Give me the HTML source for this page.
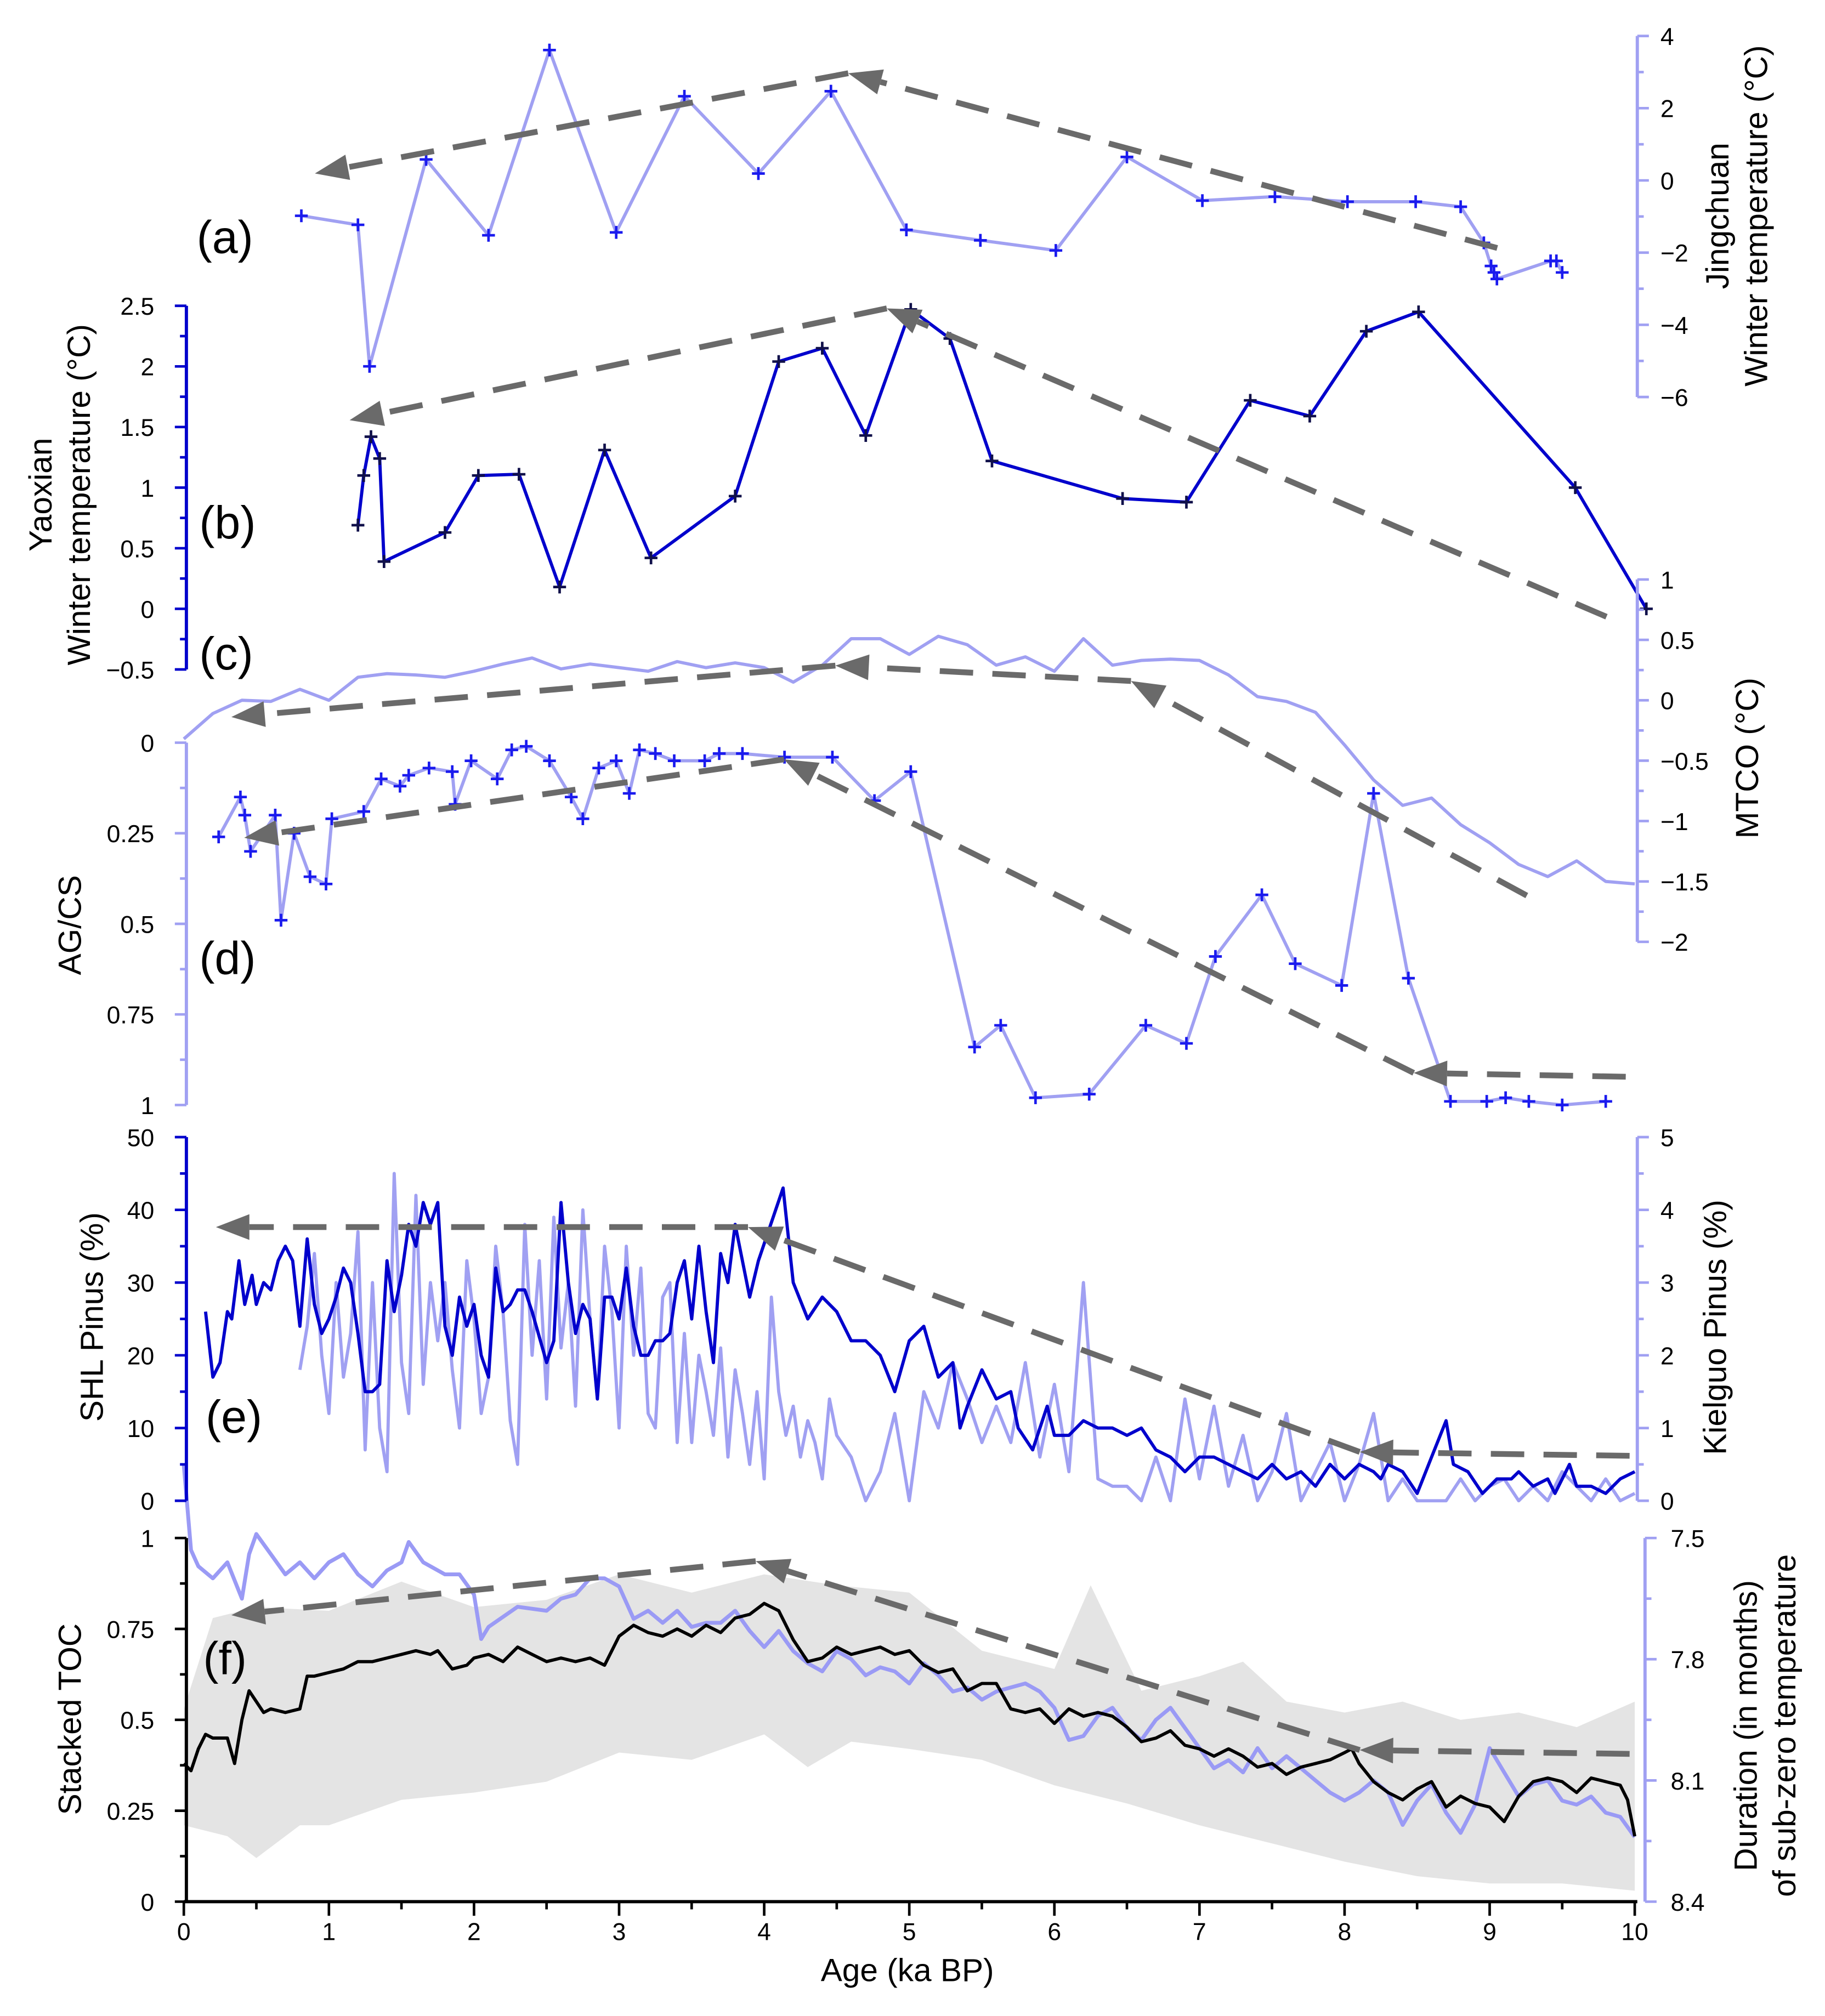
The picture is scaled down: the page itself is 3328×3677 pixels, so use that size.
<!DOCTYPE html>
<html><head><meta charset="utf-8"><style>
html,body{margin:0;padding:0;background:#fff}
svg{display:block}
text{font-family:"Liberation Sans",Arial,sans-serif}
</style></head><body>
<svg id="chart" xmlns="http://www.w3.org/2000/svg" width="3328" height="3677" viewBox="0 0 1420 1569"></svg>
<script>
// ---- data ----
const jcAge=[0.81,1.20,1.28,1.67,2.10,2.52,2.98,3.45,3.96,4.46,4.98,5.49,6.01,6.50,7.02,7.52,8.02,8.49,8.80,8.96,9.01,9.03,9.05,9.42,9.46,9.50];
const jcVal=[-0.98,-1.23,-5.15,0.58,-1.52,3.61,-1.44,2.33,0.19,2.47,-1.37,-1.66,-1.94,0.65,-0.56,-0.45,-0.59,-0.59,-0.73,-1.73,-2.37,-2.55,-2.73,-2.23,-2.23,-2.55];
const yxAge=[1.20,1.24,1.29,1.35,1.38,1.80,2.03,2.31,2.59,2.90,3.22,3.80,4.10,4.40,4.70,5.01,5.28,5.57,6.47,6.91,7.35,7.76,8.15,8.51,9.59,10.08];
const yxVal=[0.69,1.10,1.42,1.24,0.39,0.63,1.10,1.11,0.18,1.31,0.42,0.93,2.04,2.15,1.43,2.47,2.23,1.22,0.91,0.88,1.72,1.59,2.29,2.45,1.00,0.00];
const mtAge=[0,0.2,0.4,0.6,0.8,1.0,1.2,1.4,1.6,1.8,2.0,2.2,2.4,2.6,2.8,3.0,3.2,3.4,3.6,3.8,4.0,4.2,4.4,4.6,4.8,5.0,5.2,5.4,5.6,5.8,6.0,6.2,6.4,6.6,6.8,7.0,7.2,7.4,7.6,7.8,8.0,8.2,8.4,8.6,8.8,9.0,9.2,9.4,9.6,9.8,10.0];
const mtVal=[-0.32,-0.11,0.0,-0.01,0.09,0.0,0.19,0.22,0.21,0.19,0.24,0.30,0.35,0.26,0.30,0.27,0.24,0.32,0.27,0.31,0.27,0.15,0.29,0.51,0.51,0.38,0.53,0.46,0.29,0.36,0.24,0.51,0.29,0.33,0.34,0.33,0.21,0.03,-0.01,-0.10,-0.37,-0.66,-0.87,-0.81,-1.03,-1.18,-1.36,-1.46,-1.33,-1.50,-1.52];
const agAge=[0.24,0.39,0.42,0.46,0.63,0.67,0.76,0.87,0.98,1.02,1.24,1.36,1.49,1.55,1.69,1.85,1.87,1.98,2.16,2.26,2.36,2.52,2.67,2.75,2.86,2.98,3.07,3.14,3.25,3.38,3.59,3.69,3.85,4.14,4.47,4.76,5.01,5.45,5.63,5.87,6.24,6.63,6.91,7.11,7.43,7.66,7.98,8.20,8.44,8.73,8.98,9.11,9.27,9.50,9.80];
const agVal=[0.26,0.15,0.20,0.30,0.20,0.49,0.25,0.37,0.39,0.21,0.19,0.10,0.12,0.09,0.07,0.08,0.17,0.05,0.10,0.02,0.01,0.05,0.15,0.21,0.07,0.05,0.14,0.02,0.03,0.05,0.05,0.03,0.03,0.04,0.04,0.16,0.08,0.84,0.78,0.98,0.97,0.78,0.83,0.59,0.42,0.61,0.67,0.14,0.65,0.99,0.99,0.98,0.99,1.00,0.99];
const shlAge=[0.15,0.2,0.25,0.3,0.33,0.38,0.42,0.47,0.5,0.55,0.6,0.65,0.7,0.75,0.8,0.85,0.9,0.95,1.0,1.05,1.1,1.15,1.2,1.25,1.3,1.35,1.4,1.45,1.5,1.55,1.6,1.65,1.7,1.75,1.8,1.85,1.9,1.95,2.0,2.05,2.1,2.15,2.2,2.25,2.3,2.35,2.4,2.5,2.55,2.6,2.65,2.7,2.75,2.8,2.85,2.9,2.95,3.0,3.05,3.1,3.15,3.2,3.25,3.3,3.35,3.4,3.45,3.5,3.55,3.6,3.65,3.7,3.75,3.8,3.9,3.96,4.13,4.2,4.3,4.4,4.5,4.6,4.7,4.8,4.9,5.0,5.1,5.2,5.3,5.35,5.4,5.5,5.6,5.7,5.75,5.85,5.95,6.0,6.1,6.2,6.3,6.4,6.5,6.6,6.7,6.8,6.9,7.0,7.1,7.2,7.3,7.4,7.5,7.6,7.7,7.8,7.9,8.0,8.1,8.2,8.25,8.3,8.4,8.5,8.6,8.7,8.75,8.85,8.95,9.05,9.15,9.2,9.3,9.4,9.45,9.55,9.6,9.7,9.8,9.9,10.0];
const shlVal=[26,17,19,26,25,33,27,31,27,30,29,33,35,33,24,36,27,23,25,28,32,30,23,15,15,16,33,26,31,38,35,41,38,41,24,20,28,24,27,20,17,32,26,27,29,29,26,19,22,41,30,23,27,25,14,28,28,25,32,24,20,20,22,22,23,30,33,25,35,26,19,34,30,38,28,33,43,30,25,28,26,22,22,20,15,22,24,17,19,10,13,18,14,15,10,7,13,9,9,11,10,10,9,10,7,6,4,6,6,5,4,3,5,3,4,2,5,3,5,4,3,5,4,1,6,11,5,4,1,3,3,4,2,3,1,5,2,2,1,3,4];
const kgAge=[0.80,0.85,0.90,0.95,1.00,1.05,1.10,1.15,1.20,1.25,1.30,1.35,1.40,1.45,1.50,1.55,1.60,1.65,1.70,1.75,1.80,1.85,1.90,1.95,2.00,2.05,2.10,2.15,2.20,2.25,2.30,2.35,2.40,2.45,2.50,2.55,2.60,2.65,2.70,2.75,2.80,2.85,2.90,2.95,3.00,3.05,3.10,3.15,3.20,3.25,3.30,3.35,3.40,3.45,3.50,3.55,3.60,3.65,3.70,3.75,3.80,3.85,3.90,3.95,4.00,4.05,4.10,4.15,4.20,4.25,4.30,4.35,4.40,4.45,4.50,4.6,4.7,4.8,4.9,5.0,5.1,5.2,5.3,5.4,5.5,5.6,5.7,5.8,5.9,6.0,6.1,6.2,6.3,6.4,6.5,6.6,6.7,6.8,6.9,7.0,7.1,7.2,7.3,7.4,7.5,7.6,7.7,7.8,7.9,8.0,8.1,8.2,8.3,8.4,8.5,8.6,8.7,8.8,8.9,9.0,9.1,9.2,9.3,9.4,9.5,9.6,9.7,9.8,9.9,10.0];
const kgVal=[1.8,2.4,3.4,2.0,1.2,3.0,1.7,2.3,3.7,0.7,3.0,1.0,0.4,4.5,1.9,1.2,4.2,1.6,3.0,2.2,3.0,1.8,1.0,3.3,2.5,1.2,1.7,3.5,2.6,1.1,0.5,3.8,2.0,3.3,1.4,3.9,2.1,3.0,1.3,4.0,2.5,1.4,3.5,2.6,1.0,3.5,2.0,3.2,1.2,1.0,2.8,3.0,0.8,2.3,0.8,2.0,1.5,0.9,2.1,0.6,1.8,1.2,0.5,1.5,0.3,2.8,1.5,0.9,1.3,0.6,1.1,0.8,0.3,1.4,0.9,0.6,0.0,0.4,1.2,0.0,1.5,1.0,1.9,1.4,0.8,1.3,0.8,1.9,0.6,1.6,0.4,3.0,0.3,0.2,0.2,0.0,0.6,0.0,1.4,0.3,1.3,0.2,0.9,0.0,0.4,1.2,0.0,0.4,0.8,0.0,0.5,1.2,0.0,0.3,0.0,0.0,0.0,0.3,0.0,0.2,0.3,0.0,0.2,0.0,0.4,0.2,0.0,0.3,0.0,0.1];
const tocAge=[0,0.05,0.1,0.15,0.2,0.3,0.35,0.4,0.45,0.5,0.55,0.6,0.7,0.8,0.85,0.9,1.0,1.1,1.2,1.3,1.4,1.5,1.6,1.7,1.75,1.85,1.95,2.0,2.1,2.2,2.3,2.4,2.5,2.6,2.7,2.8,2.9,3.0,3.1,3.2,3.3,3.4,3.5,3.6,3.7,3.8,3.9,4.0,4.1,4.2,4.3,4.4,4.5,4.6,4.7,4.8,4.9,5.0,5.1,5.2,5.3,5.4,5.5,5.6,5.7,5.8,5.9,6.0,6.1,6.2,6.3,6.4,6.5,6.6,6.7,6.8,6.9,7.0,7.1,7.2,7.3,7.4,7.5,7.6,7.7,7.8,7.9,8.0,8.05,8.1,8.2,8.3,8.4,8.5,8.6,8.7,8.8,8.9,9.0,9.1,9.2,9.3,9.4,9.5,9.6,9.7,9.8,9.9,9.95,10.0];
const tocVal=[0.38,0.36,0.42,0.46,0.45,0.45,0.38,0.50,0.58,0.55,0.52,0.53,0.52,0.53,0.62,0.62,0.63,0.64,0.66,0.66,0.67,0.68,0.69,0.68,0.69,0.64,0.65,0.67,0.68,0.66,0.70,0.68,0.66,0.67,0.66,0.67,0.65,0.73,0.76,0.74,0.73,0.75,0.73,0.76,0.74,0.78,0.79,0.82,0.80,0.72,0.66,0.67,0.70,0.68,0.69,0.70,0.68,0.69,0.65,0.63,0.64,0.58,0.60,0.60,0.53,0.52,0.53,0.49,0.53,0.51,0.52,0.51,0.48,0.44,0.45,0.47,0.43,0.42,0.40,0.42,0.40,0.37,0.38,0.35,0.37,0.38,0.39,0.41,0.42,0.38,0.33,0.30,0.28,0.31,0.33,0.26,0.29,0.27,0.26,0.22,0.29,0.33,0.34,0.33,0.30,0.34,0.33,0.32,0.28,0.18];
const hiAge=[0,0.2,0.5,1,1.5,2,2.5,3,3.5,4,4.5,5,5.5,6,6.25,6.6,7,7.3,7.6,8,8.4,8.8,9.2,9.6,10];
const bandHi=[0.53,0.78,0.81,0.80,0.88,0.81,0.83,0.90,0.85,0.90,0.87,0.85,0.69,0.64,0.87,0.58,0.62,0.66,0.55,0.52,0.55,0.50,0.52,0.48,0.55];
const loAge=[0,0.3,0.5,0.8,1,1.5,2,2.5,3,3.5,4,4.3,4.6,5,5.5,6,6.5,7,7.5,8,8.5,9,9.5,10];
const bandLo=[0.21,0.18,0.12,0.21,0.21,0.28,0.30,0.33,0.41,0.39,0.46,0.37,0.44,0.42,0.39,0.32,0.27,0.21,0.16,0.11,0.07,0.05,0.05,0.03];
const durAge=[0,0.05,0.1,0.2,0.3,0.4,0.45,0.5,0.6,0.7,0.8,0.9,1.0,1.1,1.2,1.3,1.4,1.5,1.55,1.65,1.8,1.9,2.0,2.05,2.1,2.3,2.5,2.6,2.7,2.8,2.9,3.0,3.1,3.2,3.3,3.4,3.5,3.6,3.7,3.8,3.9,4.0,4.1,4.2,4.3,4.4,4.5,4.6,4.7,4.8,4.9,5.0,5.1,5.2,5.3,5.4,5.5,5.6,5.7,5.8,5.9,6.0,6.1,6.2,6.3,6.4,6.5,6.6,6.7,6.8,6.9,7.0,7.1,7.2,7.3,7.4,7.5,7.6,7.7,7.8,7.9,8.0,8.1,8.2,8.3,8.4,8.5,8.6,8.7,8.8,8.9,9.0,9.1,9.2,9.3,9.4,9.5,9.6,9.7,9.8,9.9,10.0];
const durVal=[7.32,7.53,7.57,7.60,7.56,7.65,7.54,7.49,7.54,7.59,7.56,7.60,7.56,7.54,7.59,7.62,7.58,7.56,7.51,7.56,7.59,7.59,7.64,7.75,7.72,7.67,7.68,7.65,7.64,7.60,7.60,7.62,7.70,7.68,7.71,7.68,7.72,7.71,7.71,7.68,7.73,7.77,7.73,7.78,7.81,7.83,7.78,7.80,7.84,7.82,7.83,7.86,7.81,7.84,7.88,7.87,7.90,7.88,7.87,7.86,7.88,7.92,8.00,7.99,7.94,7.92,7.97,8.00,7.95,7.92,7.97,8.02,8.07,8.05,8.08,8.02,8.07,8.04,8.07,8.10,8.13,8.15,8.13,8.10,8.13,8.21,8.15,8.11,8.18,8.23,8.16,8.02,8.08,8.14,8.11,8.10,8.15,8.16,8.14,8.18,8.19,8.24];
const xTicks=[0,1,2,3,4,5,6,7,8,9,10];

// ---- helpers ----
const NS="http://www.w3.org/2000/svg";
const svg=document.getElementById('chart');
const DARK="#0000cc", LAV="#a0a0f2", GREY="#6a6a6a";
function mk(tag,attrs,parent){const e=document.createElementNS(NS,tag);for(const k in attrs)e.setAttribute(k,attrs[k]);(parent||svg).appendChild(e);return e;}
const X=a=>143+a*112.9;
function lin(v0,y0,v1,y1){return v=>y0+(v-v0)*(y1-y0)/(v1-v0);}
const Ya=lin(4,28,-6,309), Yb=lin(2.5,238,-0.5,521), Yc=lin(1,451,-2,733), Yd=lin(0,578,1,860);
const Ye=lin(50,885,0,1168), Yk=lin(5,885,0,1168), Yf=lin(1,1197,0,1480), Yr=lin(7.5,1197,8.4,1480);

function line(ages,vals,Y,color,w,name){
  let d=ages.map((a,i)=>(i?'L':'M')+X(a).toFixed(1)+' '+Y(vals[i]).toFixed(1)).join(' ');
  const p=mk('path',{d:d,fill:'none',stroke:color,'stroke-width':w,'stroke-linejoin':'round'});
  
  
  return p;
}
function markers(ages,vals,Y,color,name){
  const g=mk('g',{stroke:color,'stroke-width':2});
  
  
  ages.forEach((a,i)=>{const x=X(a),y=Y(vals[i]);
    const m=mk('path',{d:`M${x-5} ${y}H${x+5}M${x} ${y-5}V${y+5}`},g);
    
    });
}
function axis(side,x,Y,vmin,vmax,major,minor,color,labels,name){
  const g=mk('g',{});
  
  
  mk('line',{x1:x,x2:x,y1:Y(vmax),y2:Y(vmin),stroke:color,'stroke-width':2.5},g);
  const dir=side==='left'?-1:1;
  const n=Math.round((vmax-vmin)/minor);
  for(let i=0;i<=n;i++){const v=vmin+i*minor;const isMaj=Math.abs(v/major-Math.round(v/major))<1e-6;
    mk('line',{x1:x,x2:x+dir*(isMaj?9:5),y1:Y(v),y2:Y(v),stroke:color,'stroke-width':2},g);}
  labels.forEach(v=>{const t=mk('text',{x:side==='left'?x-25:x+18,y:Y(v)+7,'font-size':19,'text-anchor':side==='left'?'end':'start',fill:'#000'},g);
    t.textContent=String(v).replace('-','\u2212');
    
    });
}
function vtitle(lines,x,y,name){
  const t=mk('text',{transform:`translate(${x},${y}) rotate(-90)`,'font-size':25,'text-anchor':'middle',fill:'#000'});
  lines.forEach((s,i)=>{const sp=mk('tspan',{x:0,dy:i?30:0},t);sp.textContent=s;});
  
  
}
function plabel(s,x,y){const t=mk('text',{x:x,y:y,'font-size':36,fill:'#000'});t.textContent=s;
  
  }
function arrow(x1,y1,x2,y2,name){
  const g=mk('g',{});
  
  
  const dx=x2-x1,dy=y2-y1,L=Math.hypot(dx,dy),ux=dx/L,uy=dy/L;
  const bx=x2-ux*26,by=y2-uy*26;
  mk('line',{x1:x1,y1:y1,x2:bx,y2:by,stroke:GREY,'stroke-width':4.5,'stroke-dasharray':'26 15'},g);
  mk('path',{d:`M${x2} ${y2}L${bx-uy*10} ${by+ux*10}L${bx+uy*10} ${by-ux*10}Z`,fill:GREY},g);
}

// ---- panel f band & series (bottom first) ----
{
  let d='M'+hiAge.map((a,i)=>X(a)+' '+Yf(bandHi[i])).join('L');
  for(let i=loAge.length-1;i>=0;i--)d+='L'+X(loAge[i])+' '+Yf(bandLo[i]);
  const b=mk('path',{d:d+'Z',fill:'#e4e4e4'});
  
  
}
line(durAge,durVal,Yr,'#9a9af5',3,'subzero-duration-line');
line(tocAge,tocVal,Yf,'#000',2.5,'stacked-toc-line');

// panel e
line(kgAge,kgVal,Yk,LAV,2.5,'kielguo-pinus-line');
line(shlAge,shlVal,Ye,DARK,2.5,'shl-pinus-line');
// panel d
line(agAge,agVal,Yd,LAV,2.5,'ag-cs-line');
markers(agAge,agVal,Yd,'#1a1aee','ag-cs-markers');
// panel c
line(mtAge,mtVal,Yc,LAV,2.5,'mtco-line');
// panel b
line(yxAge,yxVal,Yb,DARK,2.5,'yaoxian-line');
markers(yxAge,yxVal,Yb,'#10104a','yaoxian-markers');
// panel a
line(jcAge,jcVal,Ya,LAV,2.5,'jingchuan-line');
markers(jcAge,jcVal,Ya,'#1a1aee','jingchuan-markers');

// ---- trend arrows ----
arrow(1165,193,660,57,'trend-arrow-a1');arrow(660,57,245,135,'trend-arrow-a2');
arrow(1250,480,690,240,'trend-arrow-b1');arrow(690,240,272,327,'trend-arrow-b2');
arrow(1188,697,880,530,'trend-arrow-c1');arrow(880,530,650,518,'trend-arrow-c2');arrow(650,518,180,558,'trend-arrow-c3');
arrow(1265,838,1100,835,'trend-arrow-d1');arrow(1100,835,610,591,'trend-arrow-d2');arrow(610,591,190,652,'trend-arrow-d3');
arrow(1268,1133,1058,1130,'trend-arrow-e1');arrow(1058,1130,582,955,'trend-arrow-e2');arrow(582,955,168,955,'trend-arrow-e3');
arrow(1268,1365,1058,1362,'trend-arrow-f1');arrow(1058,1362,588,1215,'trend-arrow-f2');arrow(588,1215,180,1257,'trend-arrow-f3');

// ---- axes ----
axis('right',1274,Ya,-6,4,2,1,LAV,[4,2,0,-2,-4,-6],'jingchuan-y-axis');
axis('left',145,Yb,-0.5,2.5,0.5,0.25,DARK,[2.5,2,1.5,1,0.5,0,-0.5],'yaoxian-y-axis');
axis('right',1274,Yc,-2,1,0.5,0.25,LAV,[1,0.5,0,-0.5,-1,-1.5,-2],'mtco-y-axis');
axis('left',145,v=>Yd(1-v),0,1,0.25,0.125,LAV,[],'ag-cs-y-axis');
[0,0.25,0.5,0.75,1].forEach(v=>{const t=mk('text',{x:120,y:Yd(v)+7,'font-size':19,'text-anchor':'end'});t.textContent=v;
  
  });
axis('left',145,Ye,0,50,10,5,DARK,[50,40,30,20,10,0],'shl-y-axis');
axis('right',1274,Yk,0,5,1,0.5,LAV,[5,4,3,2,1,0],'kielguo-y-axis');
axis('left',145,Yf,0,1,0.25,0.125,'#000',[1,0.75,0.5,0.25,0],'toc-y-axis');
axis('right',1280,v=>Yr(8.4-v+7.5),7.5,8.4,0.3,0.15,LAV,[],'duration-y-axis');
[7.5,7.8,8.1,8.4].forEach(v=>{const t=mk('text',{x:1300,y:Yr(v)+7,'font-size':19});t.textContent=v;
  
  });

// x axis
{
  const g=mk('g',{});
  
  
  mk('line',{x1:143,x2:1274,y1:1480,y2:1480,stroke:'#000','stroke-width':2.5},g);
  for(let i=0;i<=20;i++){const a=i*0.5;mk('line',{x1:X(a),x2:X(a),y1:1480,y2:1480+(i%2?6:11),stroke:'#000','stroke-width':2},g);}
  xTicks.forEach(a=>{const t=mk('text',{x:X(a),y:1510,'font-size':19,'text-anchor':'middle'},g);t.textContent=a;
    
    });
  const t=mk('text',{x:706,y:1542,'font-size':25,'text-anchor':'middle'});t.textContent='Age (ka BP)';
  
  
}

// titles
vtitle(['Jingchuan','Winter temperature (\u00B0C)'],1345,168,'jingchuan-axis-title');
vtitle(['Yaoxian','Winter temperature (\u00B0C)'],40,385,'yaoxian-axis-title');
vtitle(['MTCO (\u00B0C)'],1368,590,'mtco-axis-title');
vtitle(['AG/CS'],63,720,'ag-cs-axis-title');
vtitle(['SHL Pinus (%)'],80,1025,'shl-axis-title');
vtitle(['Kielguo Pinus (%)'],1343,1033,'kielguo-axis-title');
vtitle(['Stacked TOC'],63,1338,'toc-axis-title');
vtitle(['Duration (in months)','of sub-zero temperature'],1367,1343,'duration-axis-title');

plabel('(a)',153,197);plabel('(b)',155,419);plabel('(c)',155,521);plabel('(d)',155,758);plabel('(e)',160,1115);plabel('(f)',158,1303);
</script>
</body></html>
